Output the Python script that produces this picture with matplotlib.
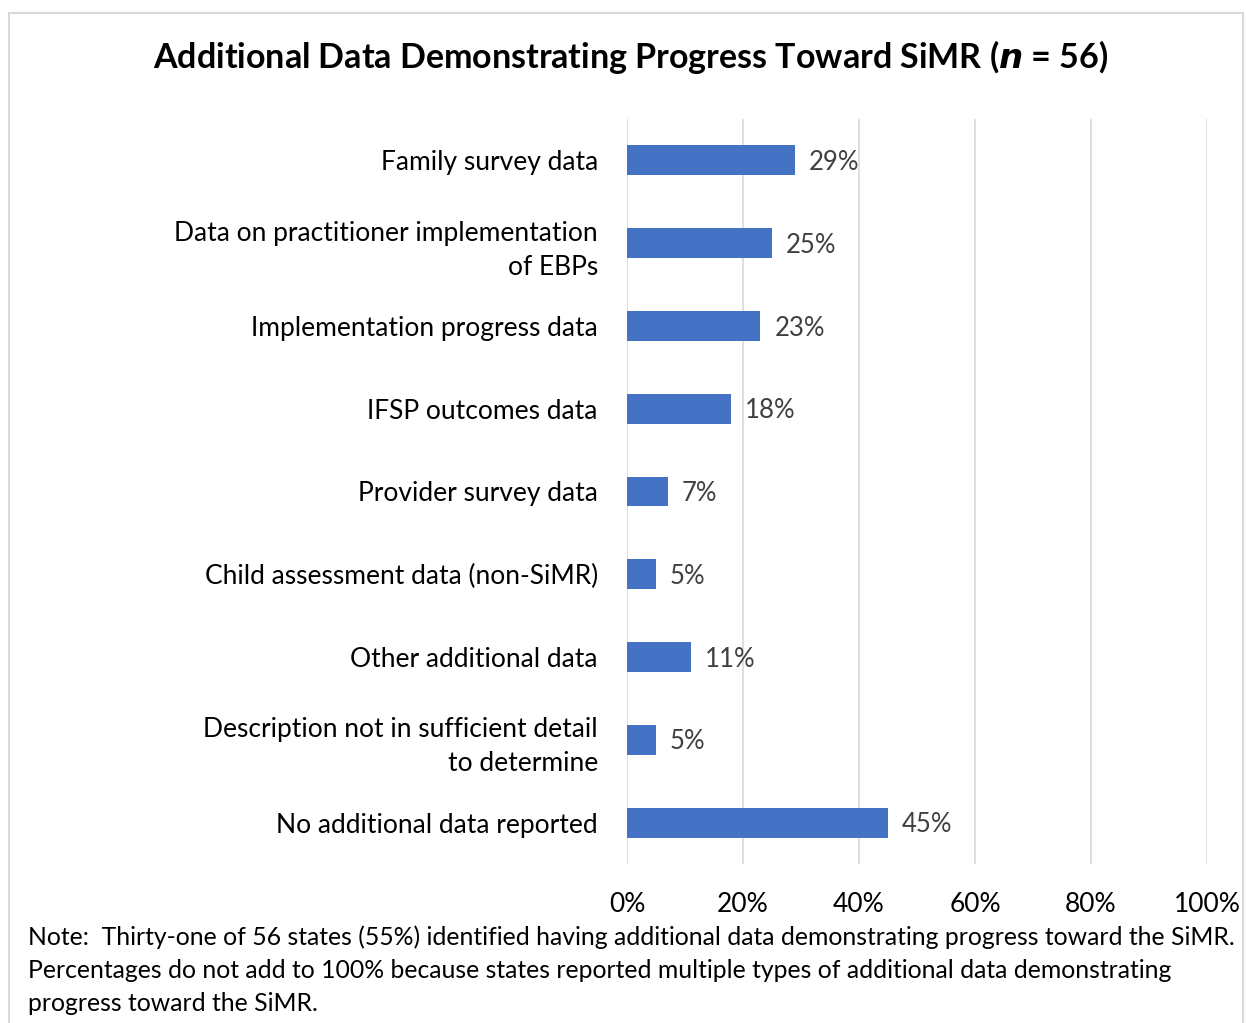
import matplotlib
matplotlib.use("Agg")
import matplotlib.pyplot as plt
from matplotlib.patches import Rectangle

categories = [
    "Family survey data",
    "Data on practitioner implementation\nof EBPs",
    "Implementation progress data",
    "IFSP outcomes data",
    "Provider survey data",
    "Child assessment data (non-SiMR)",
    "Other additional data",
    "Description not in sufficient detail\nto determine",
    "No additional data reported",
]
values = [29, 25, 23, 18, 7, 5, 11, 5, 45]
xticks = [0, 20, 40, 60, 80, 100]
xtick_labels = ["0%", "20%", "40%", "60%", "80%", "100%"]

FONT = "Lato"
plt.rcParams["font.family"] = [FONT, "DejaVu Sans"]

fig = plt.figure(figsize=(12.46, 10.23), dpi=100)
fig.patches.append(Rectangle((8.5 / 1246, -0.01), (1243 - 8.5) / 1246, 1 - 12.5 / 1023 + 0.01,
                             transform=fig.transFigure, fill=False, edgecolor="#D9D9D9",
                             linewidth=1.5))

ax = fig.add_axes([627 / 1246, 1 - 864 / 1023, 580 / 1246, 745 / 1023])
y = list(range(len(categories)))
ax.barh(y, values, height=0.36, color="#4472C4", zorder=3)
ax.set_ylim(len(categories) - 0.5, -0.5)
ax.set_xlim(0, 100)
ax.set_xticks(xticks)
ax.set_xticklabels(xtick_labels, fontsize=19, color="#000000")
ax.set_yticks(y)
ax.set_yticklabels(categories, fontsize=19, color="#000000", ha="right", linespacing=1.45)
ax.tick_params(axis="both", length=0)
ax.tick_params(axis="y", pad=21)
ax.tick_params(axis="x", pad=20)
ax.grid(axis="x", color="#D9D9D9", linewidth=1.2, zorder=0)
for s in ax.spines.values():
    s.set_visible(False)

for yi, v in zip(y, values):
    ax.annotate(f"{v}%", xy=(v, yi), xytext=(10, -1.5), textcoords="offset points",
                ha="left", va="center", fontsize=18.5, color="#404040")

fig.text(631 / 1246, 1 - 57 / 1023,
         r"Additional Data Demonstrating Progress Toward SiMR (" + "$\\mathbfit{n}$" + " = 56)",
         ha="center", va="center", fontsize=24.5, fontweight="bold", color="#000000")

note = ("Note:  Thirty-one of 56 states (55%) identified having additional data demonstrating progress toward the SiMR.\n"
        "Percentages do not add to 100% because states reported multiple types of additional data demonstrating\n"
        "progress toward the SiMR.")
fig.text(28 / 1246, 1 - 925 / 1023, note, ha="left", va="top", fontsize=17.8,
         color="#000000", linespacing=1.55)

fig.savefig("out.png", dpi=100)
